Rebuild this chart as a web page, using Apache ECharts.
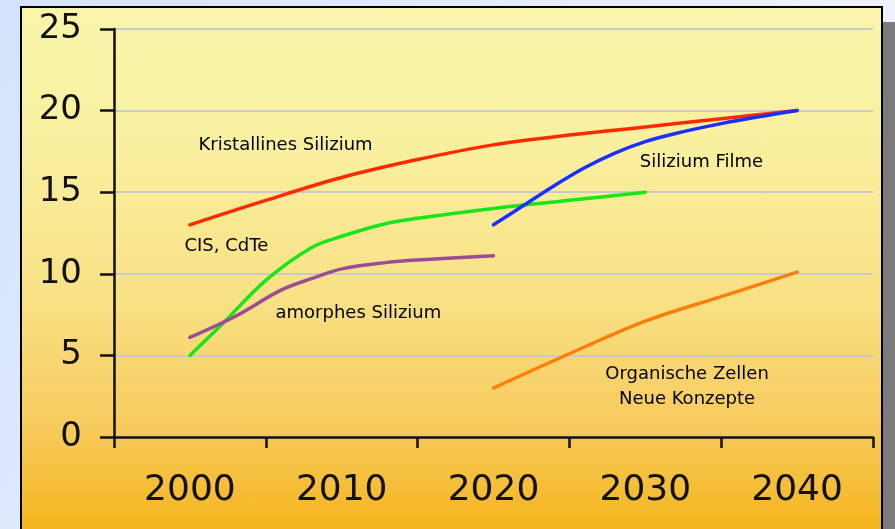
<!DOCTYPE html>
<html>
<head>
    <meta charset="UTF-8">
    <title>Wirkungsgrad Solarzellen</title>
    <script type="text/javascript" src="https://cdn.jsdelivr.net/npm/echarts@6/dist/echarts.min.js"></script>
    <style>
        html, body { margin: 0; padding: 0; width: 895px; height: 529px; overflow: hidden; }
        body { background: linear-gradient(120deg, #d3e3fb 0%, #e6eefc 50%, #f3f5fd 100%); position: relative; }
        #shadow { position: absolute; left: 883px; top: 22px; width: 12px; height: 520px; background: #7b7b7b; }
        #panel {
            position: absolute; left: 20px; top: 6px; width: 863px; height: 560px;
            box-sizing: border-box; border: 2px solid #000;
            background: linear-gradient(to bottom, #faf5ab 0px, #f9ef9e 150px, #f8df82 300px, #f7ca5c 420px, #f5b41c 523px, #f5b21a 560px);
        }
        #chart { position: absolute; left: 0; top: 0; width: 895px; height: 529px; }
    </style>
</head>
<body>
<div id="shadow"></div>
<div id="panel"></div>
<div id="chart"></div>
<script type="text/javascript">
    // Jahre und Wirkungsgrade (%)
    var kristYears = [2000, 2005, 2010, 2015, 2020, 2025, 2030, 2035, 2040];
    var kristVals  = [13.0, 14.5, 15.9, 17.0, 17.9, 18.5, 19.0, 19.5, 20.0];

    var filmeYears = [2020, 2022, 2024, 2026, 2028, 2030, 2032, 2035, 2038, 2040];
    var filmeVals  = [13.0, 14.2, 15.4, 16.5, 17.4, 18.1, 18.6, 19.2, 19.7, 20.0];

    var cisYears = [2000, 2002, 2005, 2008, 2010, 2013, 2015, 2020, 2025, 2030];
    var cisVals  = [5.0, 6.8, 9.6, 11.6, 12.3, 13.1, 13.4, 14.0, 14.5, 15.0];

    var amorphYears = [2000, 2003, 2006, 2008, 2010, 2013, 2015, 2020];
    var amorphVals  = [6.1, 7.4, 9.0, 9.7, 10.3, 10.7, 10.85, 11.1];

    var orgYears = [2020, 2025, 2030, 2035, 2040];
    var orgVals  = [3.0, 5.1, 7.1, 8.6, 10.1];

    // Beschriftungen im Diagramm
    var labelTexts = ['Kristallines Silizium', 'Silizium Filme', 'CIS, CdTe', 'amorphes Silizium', 'Organische Zellen\nNeue Konzepte'];
    var labelX = [2006.3, 2033.7, 2002.4, 2011.1, 2032.75];
    var labelY = [17.9, 16.8, 11.7, 7.6, 3.05];

    var xTicks = [1995, 2005, 2015, 2025, 2035, 2045];
    var xLabels = [2000, 2010, 2020, 2030, 2040];

    function pairs(xs, ys) {
        var out = [];
        for (var i = 0; i < xs.length; i++) out.push([xs[i], ys[i]]);
        return out;
    }

    function lineSeries(name, xs, ys, color) {
        return {
            name: name, type: 'line', data: pairs(xs, ys),
            showSymbol: false, smooth: 0.35,
            lineStyle: { color: color, width: 3.5, cap: 'round' },
            z: 3
        };
    }

    var textData = [];
    for (var i = 0; i < labelTexts.length; i++) textData.push([labelX[i], labelY[i], labelTexts[i]]);

    var chart = echarts.init(document.getElementById('chart'));
    chart.setOption({
        backgroundColor: 'transparent',
        animation: false,
        grid: { left: 114, right: 22, top: 29, bottom: 92, containLabel: false },
        xAxis: {
            type: 'value', min: 1995, max: 2045,
            axisLine: { show: true, lineStyle: { color: '#111', width: 2.5 } },
            axisTick: { show: true, customValues: xTicks, length: 11, lineStyle: { color: '#111', width: 2.5 } },
            axisLabel: {
                customValues: xLabels, margin: 36,
                formatter: function (v) { return String(v); },
                fontFamily: 'DejaVu Sans', fontSize: 36, color: '#111'
            },
            splitLine: { show: false }
        },
        yAxis: {
            type: 'value', min: 0, max: 25, interval: 5,
            axisLine: { show: true, lineStyle: { color: '#111', width: 2.5 } },
            axisTick: { show: true, length: 14, lineStyle: { color: '#111', width: 2.5 } },
            axisLabel: { margin: 32, fontFamily: 'DejaVu Sans', fontSize: 34, color: '#111' },
            splitLine: { show: true, lineStyle: { color: '#c8c8d0', width: 2 } }
        },
        series: [
            lineSeries('Kristallines Silizium', kristYears, kristVals, '#ff2a00'),
            lineSeries('CIS, CdTe', cisYears, cisVals, '#19e619'),
            lineSeries('amorphes Silizium', amorphYears, amorphVals, '#9a4c94'),
            lineSeries('Silizium Filme', filmeYears, filmeVals, '#1a30ff'),
            lineSeries('Organische Zellen', orgYears, orgVals, '#ff7d0a'),
            {
                name: 'Beschriftung', type: 'scatter', data: textData,
                symbolSize: 0, silent: true, z: 5,
                itemStyle: { opacity: 1 },
                label: {
                    show: true, position: 'inside',
                    formatter: function (p) { return p.data[2]; },
                    fontFamily: 'DejaVu Sans', fontSize: 18, lineHeight: 25,
                    color: '#000', opacity: 1, align: 'center', verticalAlign: 'middle'
                }
            }
        ]
    });
</script>
</body>
</html>
